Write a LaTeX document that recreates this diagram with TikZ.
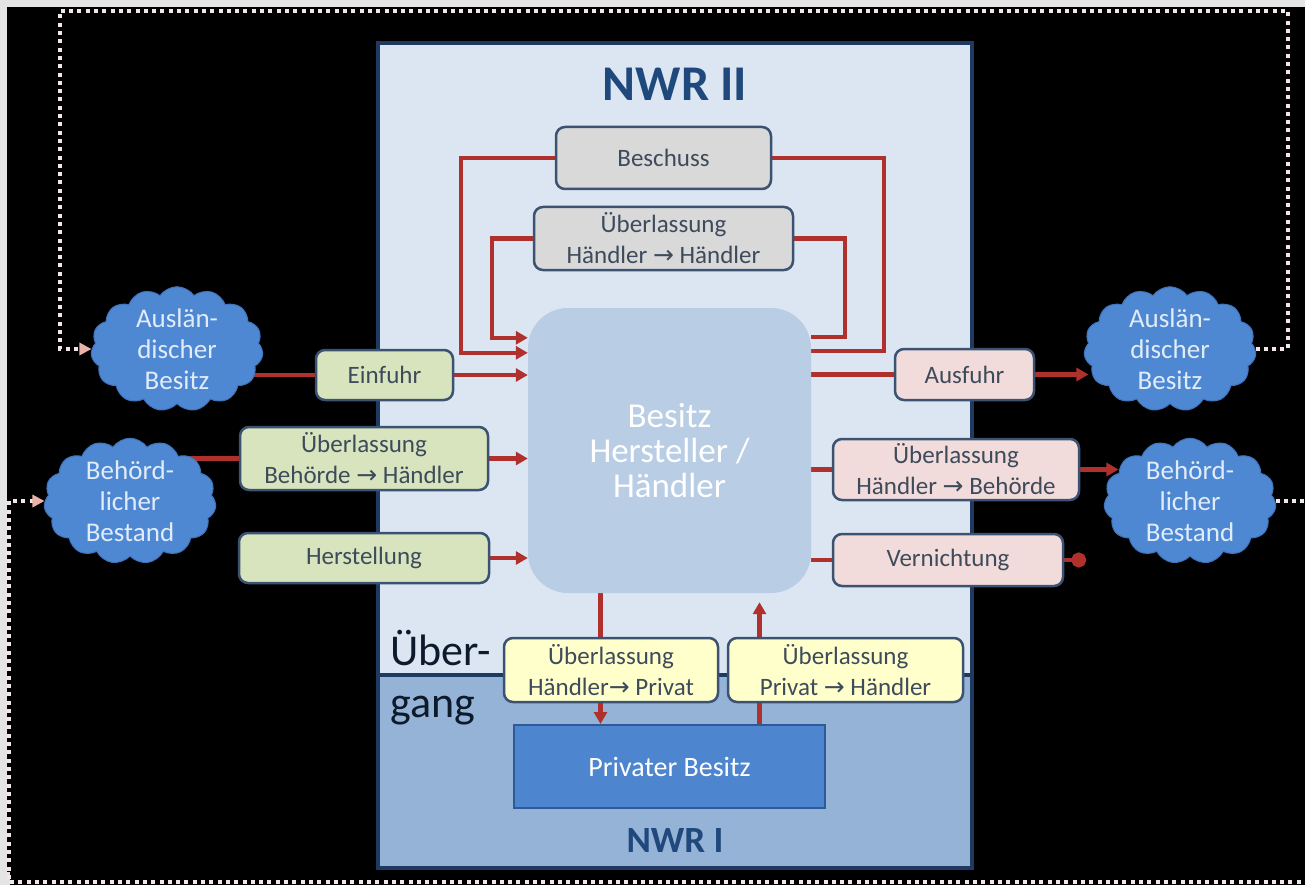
\documentclass[tikz,border=0pt]{standalone}
\usepackage{fontspec}
\setmainfont{Carlito}
\newfontfamily\arrfont{DejaVu Sans}
\usetikzlibrary{shapes.symbols,arrows.meta}
\definecolor{grayedge}{HTML}{E4E4E4}
\definecolor{nwrIIfill}{HTML}{DCE6F2}
\definecolor{nwrIfill}{HTML}{95B3D7}
\definecolor{panelline}{HTML}{1F3A60}
\definecolor{besitzfill}{HTML}{B9CDE5}
\definecolor{boxline}{HTML}{3B5272}
\definecolor{boxtext}{HTML}{3E4B5B}
\definecolor{greenfill}{HTML}{D7E4BD}
\definecolor{pinkfill}{HTML}{F2DCDB}
\definecolor{grayfill}{HTML}{D9D9D9}
\definecolor{yellowfill}{HTML}{FFFFCC}
\definecolor{flowred}{HTML}{B0302E}
\definecolor{cloudblue}{HTML}{4E88D3}
\definecolor{cloudedge}{HTML}{3F74BC}
\definecolor{cloudtext}{HTML}{E2ECF8}
\definecolor{titleblue}{HTML}{1F497D}
\definecolor{uebtext}{HTML}{0D1A2B}
\definecolor{privfill}{HTML}{4D85CF}
\definecolor{privline}{HTML}{2E5A9A}
\definecolor{dotcol}{HTML}{F3E6E6}
\definecolor{dotarrow}{HTML}{EAB2A8}
\newcommand{\arr}{{\arrfont →}}
\pgfdeclarelayer{bg}
\pgfdeclarelayer{mid}
\pgfsetlayers{bg,mid,main}
\begin{document}
\begin{tikzpicture}[x=1pt,y=-1pt,
  procbox/.style={draw=boxline, line width=2.5pt, rounded corners=9pt, inner sep=0pt,
    align=center, text=boxtext, font=\fontsize{25}{31}\selectfont},
  cloudn/.style={cloud, cloud puffs=15, cloud puff arc=110, cloud ignores aspect,
    fill=cloudblue, draw=cloudedge, line width=1pt, inner sep=0pt,
    minimum width=172pt, minimum height=124pt, align=center, text=cloudtext,
    font=\fontsize{27}{31}\selectfont},
  panel/.style={inner sep=0pt, minimum width=594pt},
  panelborder/.style={draw=panelline, line width=4pt},
  flow/.style={draw=flowred, line width=4.5pt},
  flowarr/.style={flow, -{Triangle[length=12pt,width=13pt]}},
  dotarr/.style={draw=dotcol, line width=4.5pt, dash pattern=on 4pt off 4.3pt,
    -{Triangle[length=12pt,width=12pt,color=dotarrow]}}
]
\useasboundingbox (0,0) rectangle (1305,885);
\begin{pgfonlayer}{bg}
  \fill[grayedge] (0,0) rectangle (1305,885);
  \fill[black] (7,7) rectangle (1305,885);
  \fill[grayedge] (0,872) rectangle (10,885);
  \node[panel, fill=nwrIIfill, minimum height=632pt] (nwr2) at (675,359) {};
  \node[panel, fill=nwrIfill, minimum height=193pt] (nwr1) at (675,771.5) {};
  \draw[panelborder] (nwr2.north west) rectangle (nwr1.south east);
  \draw[panelborder] (nwr2.south west) -- (nwr2.south east);
\end{pgfonlayer}

% titles
\node[inner sep=0pt, font=\bfseries\fontsize{50}{50}\selectfont, text=titleblue] (t2) at (675,84) {NWR II};
\node[inner sep=0pt, font=\bfseries\fontsize{37}{37}\selectfont, text=titleblue] (t1) at (675,840) {NWR I};
\node[inner sep=0pt, anchor=base west, font=\fontsize{44}{44}\selectfont, text=uebtext] (ueb) at (390,665) {Über-};
\node[inner sep=0pt, anchor=base west, font=\fontsize{44}{44}\selectfont, text=uebtext] (gang) at (390,717) {gang};

% central node
\node[fill=besitzfill, rounded corners=40pt, minimum width=283pt, minimum height=285pt, inner sep=0pt,
  align=center, text=white, font=\fontsize{35}{35}\selectfont] (besitz) at (669.5,450.5) {Besitz\\Hersteller /\\Händler};

% top boxes
\node[procbox, fill=grayfill, minimum width=215pt, minimum height=62pt] (besch) at (663.5,158) {Beschuss};
\node[procbox, fill=grayfill, minimum width=259pt, minimum height=63pt] (hh) at (663.5,238.5) {Überlassung\\Händler \arr{} Händler};

% left boxes
\node[procbox, fill=greenfill, minimum width=137pt, minimum height=50pt] (einf) at (384.5,375) {Einfuhr};
\node[procbox, fill=greenfill, minimum width=248pt, minimum height=63pt] (bh) at (364,458.5) {Überlassung\\Behörde \arr{} Händler};
\node[procbox, fill=greenfill, minimum width=250pt, minimum height=50pt] (herst) at (364,558) {Herstellung};

% right boxes
\node[procbox, fill=pinkfill, minimum width=139pt, minimum height=51pt] (ausf) at (964.5,374.5) {Ausfuhr};
\node[procbox, fill=pinkfill, minimum width=246pt, minimum height=61pt] (hb) at (956,469.5) {Überlassung\\Händler \arr{} Behörde};
\node[procbox, fill=pinkfill, minimum width=230pt, minimum height=52pt] (vern) at (948,560) {Vernichtung};

% transition boxes
\node[procbox, fill=yellowfill, minimum width=214pt, minimum height=64pt] (hp) at (611,670) {Überlassung\\Händler\arr{} Privat};
\node[procbox, fill=yellowfill, minimum width=235pt, minimum height=64pt] (ph) at (845.5,670) {Überlassung\\Privat \arr{} Händler};

% private
\node[draw=privline, line width=2pt, fill=privfill, minimum width=311pt, minimum height=83pt, inner sep=0pt,
  text=white, font=\fontsize{28}{30}\selectfont] (priv) at (669.5,766.5) {Privater Besitz};

% clouds
\node[cloudn] (ausL) at (177,349) {Auslän-\\discher\\Besitz};
\node[cloudn] (behL) at (130,501) {Behörd-\\licher\\Bestand};
\node[cloudn] (ausR) at (1170,349) {Auslän-\\discher\\Besitz};
\node[cloudn] (behR) at (1190,501) {Behörd-\\licher\\Bestand};

\coordinate (tr) at (1288,11);
\coordinate (tl) at (60,11);
\coordinate (br) at (1330,882);
\coordinate (bl) at (9,882);

\begin{pgfonlayer}{mid}
  % loops
  \draw[flowarr] (besch.west) -| ([xshift=-67pt,yshift=-45pt]besitz.north west) -- ([yshift=-45pt]besitz.north west);
  \draw[flowarr] (hh.west) -| ([xshift=-36pt,yshift=-30pt]besitz.north west) -- ([yshift=-30pt]besitz.north west);
  \draw[flow] (besch.east) -| ([xshift=73pt,yshift=-43pt]besitz.north east) -- ([yshift=-43pt]besitz.north east);
  \draw[flow] (hh.east) -| ([xshift=34pt,yshift=-29pt]besitz.north east) -- ([yshift=-29pt]besitz.north east);
  % inputs
  \draw[flow] (ausL.center |- einf.west) -- (einf.west);
  \draw[flowarr] (einf.east) -- (besitz.west |- einf.east);
  \draw[flow] (behL.center |- bh.west) -- (bh.west);
  \draw[flowarr] (bh.east) -- (besitz.west |- bh.east);
  \draw[flowarr] (herst.east) -- (besitz.west |- herst.east);
  % outputs
  \draw[flow] (besitz.east |- ausf.west) -- (ausf.west);
  \draw[flowarr] (ausf.east) -- ([xshift=4pt]ausR.west |- ausf.east);
  \draw[flow] (besitz.east |- hb.west) -- (hb.west);
  \draw[flowarr] (hb.east) -- ([xshift=14pt]behR.west |- hb.east);
  \draw[flow] (besitz.east |- vern.west) -- (vern.west);
  \draw[flow, -{Circle[length=15pt]}] (vern.east) -- ++(22,0);
  % transitions
  \draw[flowarr] ([xshift=-69pt]besitz.south) -- ([xshift=-69pt]besitz.south |- priv.north);
  \draw[flowarr, shorten >=9pt] ([xshift=90pt]besitz.south |- priv.north) -- ([xshift=90pt]besitz.south);
  % dotted returns
  \draw[dotarr] (ausR.east) -| (tr) -- (tl) |- (ausL.west);
  \draw[dotarr] (behR.east) -| (br) -- (bl) |- (behL.west);
\end{pgfonlayer}
\end{tikzpicture}
\end{document}
